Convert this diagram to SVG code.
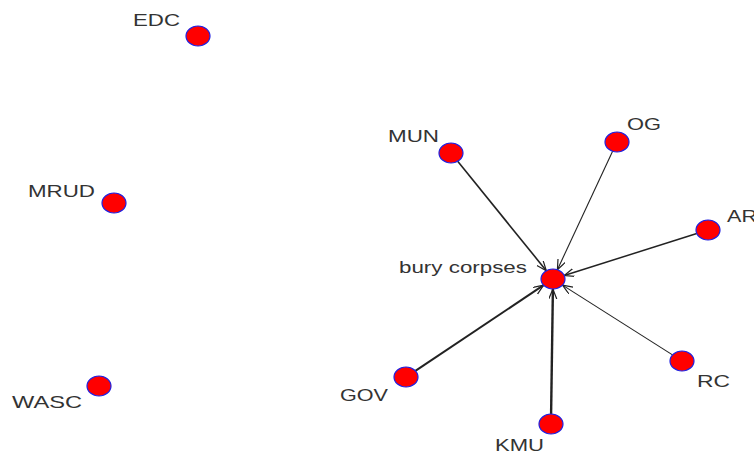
<svg xmlns="http://www.w3.org/2000/svg" width="754" height="461" viewBox="0 0 754 461">
<style>
.node ellipse{fill:#ff0000;stroke:#2020e0;stroke-width:1.2}
.node text{font-family:"Liberation Sans",Arial,sans-serif;font-size:17px;fill:#333}
.edge{stroke:#222;fill:none}
</style>
<defs>
<marker id="arr" markerUnits="userSpaceOnUse" markerWidth="12" markerHeight="10" refX="10" refY="4" orient="auto">
<path d="M0,0 L10,4 L0,8" fill="none" stroke="#222" stroke-width="1.2"/>
</marker>
</defs>
<rect width="754" height="461" fill="#ffffff"/>
<g id="edges">
<line class="edge" x1="457.7" y1="161.3" x2="546.3" y2="270.7" stroke-width="1.6" marker-end="url(#arr)"/>
<line class="edge" x1="612.6" y1="151.3" x2="557.4" y2="269.7" stroke-width="1.1" marker-end="url(#arr)"/>
<line class="edge" x1="696.8" y1="233.5" x2="564.2" y2="275.5" stroke-width="1.5" marker-end="url(#arr)"/>
<line class="edge" x1="672.5" y1="354.9" x2="562.5" y2="285.1" stroke-width="1.1" marker-end="url(#arr)"/>
<line class="edge" x1="551.1" y1="414" x2="552.9" y2="289" stroke-width="2.4" marker-end="url(#arr)"/>
<line class="edge" x1="415.4" y1="370.8" x2="543.6" y2="285.2" stroke-width="2" marker-end="url(#arr)"/>
</g>
<g id="EDC" class="node"><ellipse cx="198" cy="36" rx="12" ry="10"/><text x="133" y="26" textLength="47" lengthAdjust="spacingAndGlyphs">EDC</text></g>
<g id="MRUD" class="node"><ellipse cx="114" cy="203" rx="12" ry="10"/><text x="28" y="197" textLength="67" lengthAdjust="spacingAndGlyphs">MRUD</text></g>
<g id="WASC" class="node"><ellipse cx="99" cy="386" rx="12" ry="10"/><text x="12" y="408" textLength="70" lengthAdjust="spacingAndGlyphs">WASC</text></g>
<g id="MUN" class="node"><ellipse cx="451" cy="153" rx="12" ry="10"/><text x="388" y="142" textLength="51" lengthAdjust="spacingAndGlyphs">MUN</text></g>
<g id="OG" class="node"><ellipse cx="617" cy="142" rx="12" ry="10"/><text x="627" y="130" textLength="34" lengthAdjust="spacingAndGlyphs">OG</text></g>
<g id="AR" class="node"><ellipse cx="708" cy="230" rx="12" ry="10"/><text x="727" y="222" textLength="30" lengthAdjust="spacingAndGlyphs">AR</text></g>
<g id="bury_corpses" class="node"><ellipse cx="553" cy="279" rx="12" ry="10"/><text x="399" y="273" textLength="128" lengthAdjust="spacingAndGlyphs">bury corpses</text></g>
<g id="GOV" class="node"><ellipse cx="406" cy="377" rx="12" ry="10"/><text x="340" y="401" textLength="48" lengthAdjust="spacingAndGlyphs">GOV</text></g>
<g id="KMU" class="node"><ellipse cx="551" cy="424" rx="12" ry="10"/><text x="495" y="451" textLength="49" lengthAdjust="spacingAndGlyphs">KMU</text></g>
<g id="RC" class="node"><ellipse cx="682" cy="361" rx="12" ry="10"/><text x="697" y="387" textLength="33" lengthAdjust="spacingAndGlyphs">RC</text></g>
</svg>
